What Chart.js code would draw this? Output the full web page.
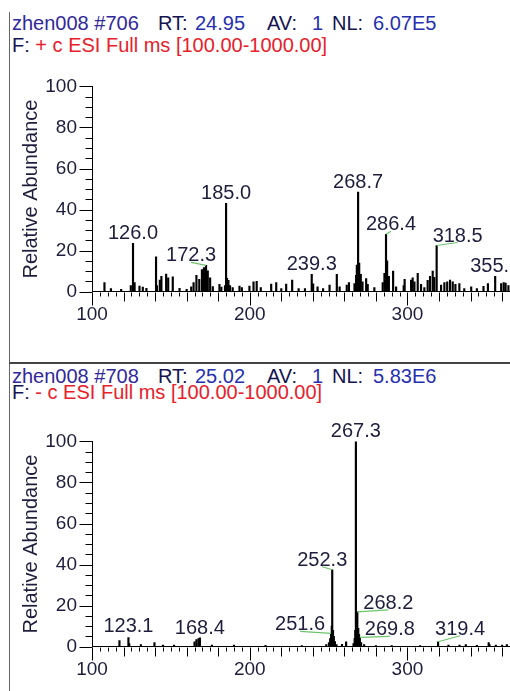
<!DOCTYPE html>
<html>
<head>
<meta charset="utf-8">
<script src="https://cdn.jsdelivr.net/npm/chart.js@4.4.0/dist/chart.umd.min.js"></script>
<style>
  html, body { margin: 0; padding: 0; background: #fff; overflow: hidden; }
  #page { position: relative; width: 510px; height: 691px; font-family: "Liberation Sans", Arial, sans-serif; }
  .frame { position: absolute; left: 9px; top: 12px; height: 679px; border-left: 1px solid #666; }
  .sep { position: absolute; left: 9px; top: 362px; width: 501px; border-top: 2px solid #444; }
  .hdr { position: absolute; font-size: 20px; line-height: 20px; white-space: pre; }
  .nm { color: #32289c; }
  .key { color: #141450; }
  .val { color: #2530b0; }
  .red { color: #e8202a; }
  canvas { position: absolute; left: 0; }
</style>
</head>
<body>
<div id="page">
  <div class="frame"></div>
  <div class="sep"></div>

  <span class="hdr nm" style="left:12px;top:13px">zhen008 #706</span>
  <span class="hdr key" style="left:158px;top:13px">RT:</span>
  <span class="hdr val" style="left:195px;top:13px">24.95</span>
  <span class="hdr key" style="left:267px;top:13px">AV:</span>
  <span class="hdr val" style="left:312px;top:13px">1</span>
  <span class="hdr key" style="left:332px;top:13px">NL:</span>
  <span class="hdr val" style="left:373px;top:13px">6.07E5</span>
  <span class="hdr key" style="left:12px;top:35px">F: <span class="red">+ c ESI Full ms [100.00-1000.00]</span></span>

  <span class="hdr nm" style="left:12px;top:366px">zhen008 #708</span>
  <span class="hdr key" style="left:158px;top:366px">RT:</span>
  <span class="hdr val" style="left:195px;top:366px">25.02</span>
  <span class="hdr key" style="left:267px;top:366px">AV:</span>
  <span class="hdr val" style="left:312px;top:366px">1</span>
  <span class="hdr key" style="left:332px;top:366px">NL:</span>
  <span class="hdr val" style="left:373px;top:366px">5.83E6</span>
  <span class="hdr key" style="left:12px;top:382px">F: <span class="red">- c ESI Full ms [100.00-1000.00]</span></span>

  <canvas id="posChart" width="510" height="280" style="top:60px"></canvas>
  <canvas id="negChart" width="510" height="276" style="top:415px"></canvas>
</div>

<script>
// axis ticks
const xTicks = [100, 200, 300];
const yTicks = [0, 20, 40, 60, 80, 100];
const xMin = 100;
const xMax = 365;

// scan #706, positive mode
const posMz = [107.9, 112.0, 118.5, 124.6, 126.0, 127.0, 130.1, 132.2, 134.5, 140.6,
  141.2, 143.0, 144.0, 147.0, 148.3, 151.2, 155.5, 160.0, 162.9, 164.4,
  166.2, 168.0, 169.7, 171.0, 172.3, 173.4, 174.9, 176.6, 180.8, 182.0,
  184.3, 185.0, 185.6, 186.5, 187.5, 189.2, 193.5, 195.0, 199.8, 202.4,
  204.4, 207.0, 213.6, 216.8, 220.0, 223.1, 226.9, 231.0, 235.0, 239.3,
  240.2, 243.0, 246.5, 250.6, 255.2, 257.0, 261.5, 262.9, 266.4, 267.4,
  267.9, 268.7, 269.4, 270.4, 271.5, 273.8, 274.8, 279.0, 284.3, 285.4,
  286.4, 287.1, 288.2, 290.9, 292.8, 297.6, 298.2, 302.3, 303.3, 304.4,
  306.5, 308.6, 310.7, 312.8, 314.3, 316.0, 317.0, 318.5, 321.3, 323.4,
  325.2, 327.0, 328.7, 330.4, 332.9, 336.0, 340.4, 344.0, 348.2, 351.0,
  355.6, 359.4, 361.0, 362.2, 364.0];
const posAbund = [4.4, 1.5, 1.2, 3.0, 23.5, 4.5, 2.7, 2.2, 1.6, 17.0,
  3.0, 5.6, 7.5, 8.6, 6.8, 7.3, 1.6, 1.2, 2.4, 4.5,
  8.0, 6.0, 10.8, 11.8, 12.8, 10.2, 6.8, 2.5, 3.6, 2.3,
  3.0, 43.0, 6.5, 5.5, 3.0, 2.0, 2.7, 2.0, 2.7, 4.8,
  5.0, 2.0, 3.7, 4.4, 1.5, 3.7, 5.6, 1.5, 1.5, 8.5,
  3.8, 2.4, 1.5, 3.2, 8.5, 2.4, 3.2, 4.4, 4.0, 8.0,
  13.0, 48.5, 14.0, 8.5, 4.8, 6.4, 3.6, 2.0, 4.4, 8.9,
  28.0, 15.0, 7.5, 10.0, 2.4, 3.0, 6.0, 5.6, 6.8, 4.8,
  9.0, 3.6, 2.0, 5.5, 7.5, 10.0, 7.0, 22.5, 3.2, 4.4,
  4.8, 5.6, 4.8, 3.6, 4.0, 1.5, 2.4, 1.5, 2.6, 4.0,
  7.5, 4.0, 4.5, 4.2, 3.0];
const posLabels = ['126.0', '172.3', '185.0', '239.3', '268.7', '286.4', '318.5', '355.6'];

// scan #708, negative mode
const negMz = [117.4, 123.1, 123.6, 131.0, 139.6, 145.0, 152.0, 165.0, 166.2, 167.5,
  168.4, 176.0, 190.0, 210.0, 233.0, 248.5, 250.2, 251.0, 251.6, 252.0,
  252.3, 252.8, 253.3, 254.0, 255.0, 258.5, 261.1, 265.8, 266.5, 266.9,
  267.3, 268.2, 268.8, 269.3, 269.8, 270.6, 272.5, 280.0, 290.0, 308.0,
  319.4, 326.0, 333.0, 337.0, 344.0, 351.5, 352.0, 356.0, 360.0, 363.0];
const negAbund = [3.0, 4.5, 1.5, 1.0, 2.0, 0.8, 0.8, 2.4, 3.5, 4.0,
  4.3, 0.8, 0.8, 0.7, 0.6, 1.0, 2.0, 4.0, 6.5, 10.0,
  37.5, 8.0, 5.0, 2.5, 1.0, 1.2, 2.4, 1.5, 4.0, 8.0,
  100.0, 17.0, 9.0, 6.0, 4.5, 2.0, 1.0, 0.6, 0.6, 0.6,
  2.4, 0.8, 0.8, 1.0, 0.7, 2.0, 1.0, 0.8, 0.8, 1.0];
const negLabels = ['123.1', '168.4', '251.6', '252.3', '267.3', '268.2', '269.8', '319.4'];

// label nudges [dx, dy] in px; a nudged label gets a green leader line
const labelShift = {
  '172.3': [-15, 0], '286.4': [5, 0], '318.5': [21, 0],
  '123.1': [0, -1], '251.6': [-31, 1], '252.3': [-10, 0],
  '268.2': [31, 1], '269.8': [30, 2], '319.4': [22, -3]
};

const FONT = '"Liberation Sans", Arial, sans-serif';
const INK = '#1e1e3c';
Chart.defaults.font.family = FONT;

const spectrumDecor = {
  id: 'spectrumDecor',
  afterDraw(chart) {
    const ctx = chart.ctx;
    const xs = chart.scales.x;
    const ys = chart.scales.y;
    const y0 = Math.round(ys.getPixelForValue(0)) + 0.5;
    const x0 = Math.round(xs.getPixelForValue(xMin)) + 0.5;
    ctx.save();

    // tick marks: every 5 units, longer every 20 / 100
    ctx.strokeStyle = '#000';
    ctx.lineWidth = 1;
    ctx.beginPath();
    for (let v = xMin; v <= xMax; v += 5) {
      const px = Math.round(xs.getPixelForValue(v)) + 0.5;
      const len = v % 100 === 0 ? 13 : (v % 20 === 0 ? 9 : 4);
      ctx.moveTo(px, y0);
      ctx.lineTo(px, y0 + len);
    }
    for (let v = 0; v <= 100; v += 5) {
      const py = Math.round(ys.getPixelForValue(v)) + 0.5;
      const len = v % 20 === 0 ? 13 : 7;
      ctx.moveTo(x0, py);
      ctx.lineTo(x0 - len, py);
    }
    ctx.stroke();

    // peak labels
    const ds = chart.data.datasets[0];
    ctx.font = '20px ' + FONT;
    ctx.textAlign = 'center';
    ctx.textBaseline = 'alphabetic';
    ds.peakLabels.forEach(txt => {
      const m = parseFloat(txt);
      const pt = ds.data.find(d => Math.abs(d.x - m) < 0.01);
      if (!pt) return;
      const px = xs.getPixelForValue(pt.x);
      const py = ys.getPixelForValue(pt.y);
      const sh = labelShift[txt] || [0, 0];
      const lx = px + sh[0];
      const ly = py - 4 + sh[1];
      if (labelShift[txt] && sh[0] !== 0) {
        ctx.strokeStyle = '#6cc46c';
        ctx.lineWidth = 1.2;
        ctx.beginPath();
        ctx.moveTo(px, py);
        ctx.lineTo(lx, ly + 1);
        ctx.stroke();
      }
      ctx.fillStyle = INK;
      ctx.fillText(txt, lx, ly);
    });
    ctx.restore();
  }
};

function makeSpectrum(canvasId, mz, abund, labels, topPad, xHeight) {
  const ctx = document.getElementById(canvasId).getContext('2d');
  return new Chart(ctx, {
    type: 'bar',
    data: {
      datasets: [{
        data: mz.map((m, i) => ({ x: m, y: abund[i] })),
        backgroundColor: '#000',
        barThickness: 1.5,
        peakLabels: labels
      }]
    },
    options: {
      responsive: false,
      animation: false,
      devicePixelRatio: 1,
      layout: { padding: { top: topPad, left: 0, right: 0, bottom: 0 } },
      plugins: { legend: { display: false }, tooltip: { enabled: false } },
      scales: {
        x: {
          type: 'linear',
          min: xMin,
          max: xMax,
          offset: false,
          afterBuildTicks: s => { s.ticks = xTicks.map(v => ({ value: v })); },
          afterFit: s => { s.height = xHeight; },
          grid: { display: false, drawTicks: false },
          border: { display: true, color: '#000', width: 1 },
          ticks: { autoSkip: false, maxRotation: 0, padding: 12, color: INK, font: { size: 19 } }
        },
        y: {
          min: 0,
          max: 100,
          afterBuildTicks: s => { s.ticks = yTicks.map(v => ({ value: v })); },
          afterFit: s => { s.width = 92; },
          grid: { display: false, drawTicks: false },
          border: { display: true, color: '#000', width: 1 },
          ticks: { padding: 15, color: INK, font: { size: 19 } },
          title: {
            display: true,
            text: 'Relative Abundance',
            color: INK,
            font: { size: 20 },
            padding: { top: 19, bottom: 0 }
          }
        }
      }
    },
    plugins: [spectrumDecor]
  });
}

makeSpectrum('posChart', posMz, posAbund, posLabels, 25, 48.3);
makeSpectrum('negChart', negMz, negAbund, negLabels, 23, 44.3);
</script>
</body>
</html>
